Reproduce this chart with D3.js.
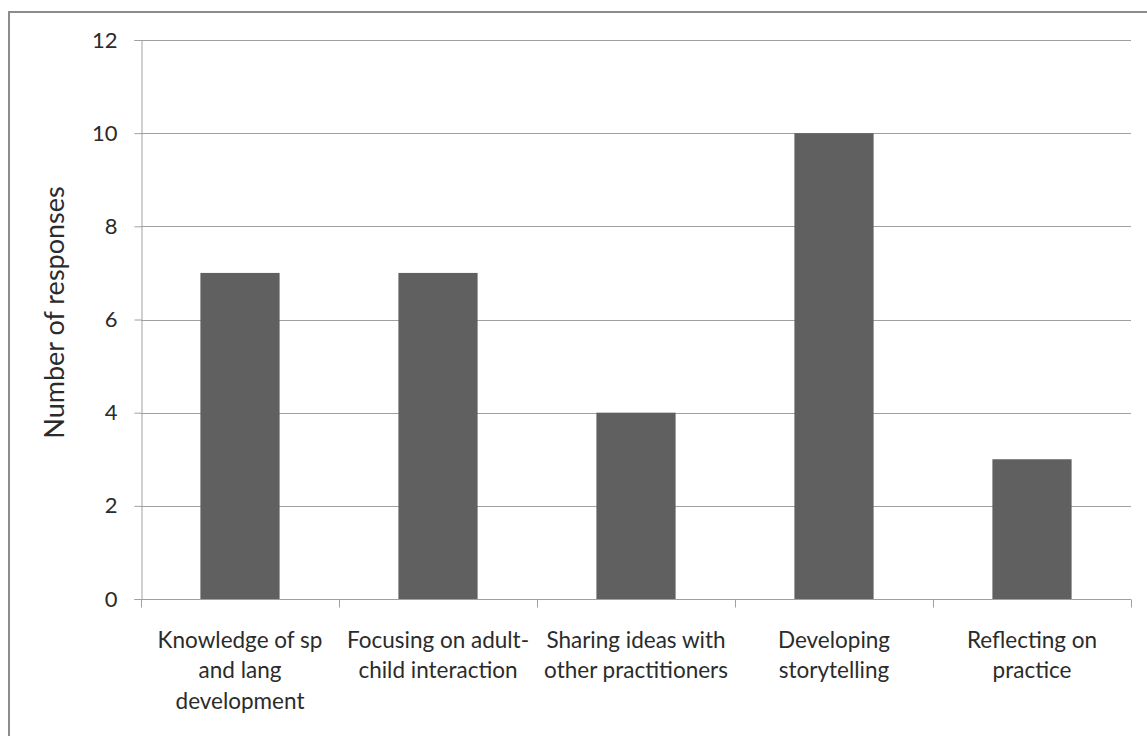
<!DOCTYPE html>
<html>
<head>
<meta charset="utf-8">
<script src="https://cdn.jsdelivr.net/npm/d3@7/dist/d3.min.js"></script>
<style>
  html, body { margin: 0; padding: 0; background: #fff; }
  svg { display: block; }
  text { font-family: Lato, "Open Sans", sans-serif; fill: #2b2b2b; }
</style>
</head>
<body>
<svg id="chart" width="1147" height="736"></svg>
<script>
// Responses per training aspect
const categories = [
  "Knowledge of sp and lang development",
  "Focusing on adult-child interaction",
  "Sharing ideas with other practitioners",
  "Developing storytelling",
  "Reflecting on practice"
];
const categoryLines = [
  ["Knowledge of sp", "and lang", "development"],
  ["Focusing on adult-", "child interaction"],
  ["Sharing ideas with", "other practitioners"],
  ["Developing", "storytelling"],
  ["Reflecting on", "practice"]
];
const responses = [7, 7, 4, 10, 3];
const yTicks = [0, 2, 4, 6, 8, 10, 12];
const yLabel = "Number of responses";

const svg = d3.select("#chart");
const margin = { left: 141, right: 16, top: 40, bottom: 137 };
const W = 1147, H = 736;
const plotW = W - margin.left - margin.right;
const plotH = H - margin.top - margin.bottom;

// outer chart frame: left and top edges (the rest runs off the page)
svg.append("path")
  .attr("d", `M9,${H} L9,12 L${W},12`)
  .attr("fill", "none")
  .attr("stroke", "#8c8c8c")
  .attr("stroke-width", 2);

const g = svg.append("g").attr("transform", `translate(${margin.left},${margin.top})`);

const x = d3.scaleBand().domain(categories).range([0, plotW]).paddingInner(0.6).paddingOuter(0.3);
const xOuter = d3.scaleBand().domain(categories).range([0, plotW]);
const y = d3.scaleLinear().domain([0, 12]).range([plotH, 0]);

// horizontal gridlines
g.append("g").selectAll("line").data(yTicks.filter(d => d > 0)).join("line")
  .attr("x1", 0).attr("x2", plotW)
  .attr("y1", d => Math.round(y(d)) + 0.5).attr("y2", d => Math.round(y(d)) + 0.5)
  .attr("stroke", "#a0a0a0").attr("stroke-width", 1);

// y axis
const yAxis = g.append("g")
  .attr("transform", "translate(0.5,0)")
  .call(d3.axisLeft(y).tickValues(yTicks).tickSize(7).tickPadding(17).tickFormat(d3.format("d")));
yAxis.select(".domain").attr("stroke", "#a0a0a0");
yAxis.selectAll(".tick line").attr("stroke", "#a0a0a0");
yAxis.selectAll(".tick text").attr("font-size", 22).attr("fill", "#2b2b2b")
  .attr("font-family", "Lato, sans-serif");

// bars
g.append("g").selectAll("rect").data(responses).join("rect")
  .attr("x", (d, i) => x(categories[i]))
  .attr("width", x.bandwidth())
  .attr("y", d => y(d))
  .attr("height", d => y(0) - y(d))
  .attr("fill", "#606060");

// x axis with ticks at category boundaries
const xAxis = g.append("g").attr("transform", `translate(0,${plotH + 0.5})`);
xAxis.append("line").attr("x1", 0).attr("x2", plotW).attr("stroke", "#a0a0a0");
const bounds = categories.map(c => xOuter(c)).concat([plotW]);
xAxis.selectAll("line.tk").data(bounds).join("line").attr("class", "tk")
  .attr("x1", d => Math.round(d) + 0.5).attr("x2", d => Math.round(d) + 0.5)
  .attr("y1", 0).attr("y2", 8)
  .attr("stroke", "#a0a0a0");

// category labels
const lab = xAxis.selectAll("text.cat").data(categories).join("text").attr("class", "cat")
  .attr("text-anchor", "middle")
  .attr("font-size", 22.5)
  .attr("transform", c => `translate(${xOuter(c) + xOuter.bandwidth() / 2},48)`);
lab.selectAll("tspan").data((c, i) => categoryLines[i]).join("tspan")
  .attr("x", 0).attr("dy", (d, j) => j === 0 ? 0 : 30.5)
  .text(d => d);

// y axis title
svg.append("text")
  .attr("transform", `translate(64,${margin.top + plotH / 2 - 7}) rotate(-90)`)
  .attr("text-anchor", "middle")
  .attr("font-size", 27)
  .text(yLabel);
</script>
</body>
</html>
